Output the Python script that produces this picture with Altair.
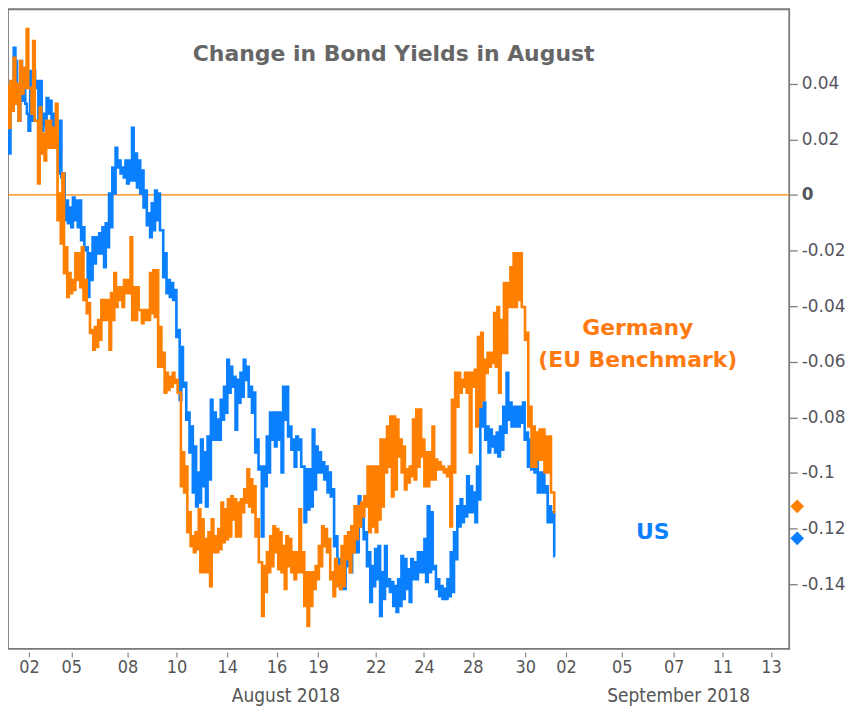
import altair as alt
import pandas as pd

# ---------------- data ----------------
# x axis: trading-time axis, tick positions (in session units) and their labels
tick_pos = [0.84, 2.54, 4.8, 6.76, 8.8, 10.78, 12.44, 14.76, 16.7, 18.66, 20.76,
            22.4, 24.64, 26.72, 28.68, 30.63]
tick_labels = ["02", "05", "08", "10", "14", "16", "19", "22", "24", "28", "30",
               "02", "05", "07", "11", "13"]
month_labels = ["August 2018", "September 2018"]
month_pos = [11.16, 26.92]
x_domain = [0, 31.36]
data_end = 21.96

y_ticks = [0.04, 0.02, 0.0, -0.02, -0.04, -0.06, -0.08, -0.1, -0.12, -0.14]
y_domain = [-0.1633, 0.0668]

# US 10y: per sample, high and low of the band
us_high = [0.0231, 0.0392, 0.0529, 0.0364, 0.0482, 0.0385, 0.0292, 0.0446, 0.0446, 0.0410,
           0.0410, 0.0292, 0.0349, 0.0339, 0.0292, 0.0195, 0.0267, 0.0077, -0.0020, -0.0045,
           -0.0009, -0.0020, -0.0020, -0.0116, -0.0188, -0.0210, -0.0152, -0.0152, -0.0138, -0.0116,
           -0.0102, 0.0005, 0.0099, 0.0170, 0.0124, 0.0099, 0.0124, 0.0124, 0.0242, 0.0149,
           0.0124, 0.0088, 0.0016, -0.0066, -0.0030, 0.0016, 0.0005, -0.0127, -0.0210, -0.0306,
           -0.0317, -0.0342, -0.0486, -0.0547, -0.0676, -0.0783, -0.0833, -0.0905, -0.0998, -0.0880,
           -0.0926, -0.0869, -0.0737, -0.0783, -0.0808, -0.0737, -0.0690, -0.0593, -0.0618, -0.0654,
           -0.0665, -0.0640, -0.0593, -0.0618, -0.0690, -0.0711, -0.0880, -0.0977, -0.0977, -0.0869,
           -0.0783, -0.0783, -0.0783, -0.0783, -0.0690, -0.0690, -0.0833, -0.0880, -0.0869, -0.0880,
           -0.0977, -0.0987, -0.0987, -0.0844, -0.0905, -0.0926, -0.0962, -0.0977, -0.0998, -0.1059,
           -0.1228, -0.1310, -0.1299, -0.1228, -0.1263, -0.1192, -0.1192, -0.1084, -0.1120, -0.1213,
           -0.1285, -0.1335, -0.1274, -0.1263, -0.1357, -0.1263, -0.1382, -0.1392, -0.1407, -0.1382,
           -0.1299, -0.1310, -0.1346, -0.1310, -0.1321, -0.1285, -0.1285, -0.1238, -0.1120, -0.1141,
           -0.1335, -0.1382, -0.1407, -0.1417, -0.1382, -0.1285, -0.1213, -0.1120, -0.1095, -0.1120,
           -0.1012, -0.1048, -0.1070, -0.0977, -0.0762, -0.0747, -0.0833, -0.0844, -0.0869, -0.0855,
           -0.0833, -0.0762, -0.0640, -0.0747, -0.0762, -0.0762, -0.0762, -0.0747, -0.0855, -0.0880,
           -0.0869, -0.0952, -0.0998, -0.0998, -0.1048, -0.1120, -0.1141]
us_low = [0.0149, 0.0303, 0.0482, 0.0267, 0.0339, 0.0328, 0.0231, 0.0267, 0.0385, 0.0267,
          0.0231, 0.0249, 0.0292, 0.0242, 0.0206, 0.0077, 0.0063, -0.0091, -0.0102, -0.0116,
          -0.0091, -0.0116, -0.0163, -0.0199, -0.0367, -0.0306, -0.0246, -0.0210, -0.0210, -0.0260,
          -0.0188, -0.0116, 0.0005, 0.0099, 0.0077, 0.0063, 0.0041, 0.0052, 0.0052, 0.0027,
          0.0005, -0.0045, -0.0109, -0.0152, -0.0127, -0.0091, -0.0127, -0.0296, -0.0353, -0.0367,
          -0.0378, -0.0511, -0.0737, -0.0690, -0.0808, -0.0926, -0.1070, -0.1120, -0.1106, -0.1048,
          -0.1120, -0.1023, -0.0880, -0.0880, -0.0880, -0.0808, -0.0783, -0.0711, -0.0690, -0.0844,
          -0.0747, -0.0726, -0.0665, -0.0726, -0.0783, -0.0926, -0.0987, -0.1228, -0.1048, -0.0998,
          -0.0880, -0.0905, -0.0880, -0.0998, -0.0808, -0.0869, -0.0916, -0.0977, -0.0916, -0.0977,
          -0.1177, -0.1131, -0.1120, -0.1059, -0.0998, -0.0998, -0.1023, -0.1070, -0.1084, -0.1263,
          -0.1346, -0.1417, -0.1417, -0.1335, -0.1357, -0.1285, -0.1285, -0.1192, -0.1238, -0.1335,
          -0.1464, -0.1407, -0.1382, -0.1514, -0.1453, -0.1407, -0.1428, -0.1478, -0.1500, -0.1478,
          -0.1453, -0.1417, -0.1464, -0.1382, -0.1382, -0.1357, -0.1357, -0.1392, -0.1357, -0.1346,
          -0.1417, -0.1443, -0.1453, -0.1453, -0.1443, -0.1428, -0.1310, -0.1192, -0.1177, -0.1156,
          -0.1141, -0.1141, -0.1177, -0.1095, -0.0833, -0.0880, -0.0926, -0.0905, -0.0926, -0.0941,
          -0.0916, -0.0855, -0.0808, -0.0833, -0.0833, -0.0833, -0.0819, -0.0880, -0.0977, -0.0987,
          -0.0998, -0.1070, -0.1070, -0.1070, -0.1177, -0.1177, -0.1299]

# Germany (EU benchmark): per sample, high and low of the band
de_high = [0.0392, 0.0410, 0.0493, 0.0400, 0.0482, 0.0457, 0.0597, 0.0385, 0.0554, 0.0267,
           0.0314, 0.0220, 0.0267, 0.0267, 0.0242, 0.0328, 0.0005, 0.0077, -0.0188, -0.0281,
           -0.0306, -0.0210, -0.0210, -0.0188, -0.0306, -0.0389, -0.0486, -0.0475, -0.0450, -0.0378,
           -0.0378, -0.0378, -0.0353, -0.0281, -0.0332, -0.0332, -0.0306, -0.0306, -0.0152, -0.0332,
           -0.0332, -0.0414, -0.0414, -0.0414, -0.0281, -0.0271, -0.0271, -0.0475, -0.0568, -0.0640,
           -0.0654, -0.0640, -0.0665, -0.0711, -0.0926, -0.0977, -0.1141, -0.1228, -0.1213, -0.1131,
           -0.1167, -0.1238, -0.1213, -0.1167, -0.1228, -0.1202, -0.1106, -0.1131, -0.1095, -0.1084,
           -0.1095, -0.1106, -0.1095, -0.1059, -0.0987, -0.1023, -0.1048, -0.1167, -0.1321, -0.1335,
           -0.1285, -0.1228, -0.1192, -0.1202, -0.1213, -0.1263, -0.1228, -0.1238, -0.1285, -0.1285,
           -0.1131, -0.1285, -0.1357, -0.1357, -0.1357, -0.1335, -0.1263, -0.1192, -0.1202, -0.1238,
           -0.1357, -0.1310, -0.1335, -0.1263, -0.1228, -0.1213, -0.1192, -0.1120, -0.1120, -0.1106,
           -0.1084, -0.0977, -0.0977, -0.0977, -0.0977, -0.0880, -0.0880, -0.0833, -0.0797, -0.0797,
           -0.0808, -0.0880, -0.0905, -0.0987, -0.0977, -0.0808, -0.0772, -0.0772, -0.0880, -0.0926,
           -0.0926, -0.0833, -0.0952, -0.0962, -0.0977, -0.0987, -0.0977, -0.0737, -0.0640, -0.0640,
           -0.0665, -0.0640, -0.0640, -0.0640, -0.0629, -0.0511, -0.0496, -0.0593, -0.0568, -0.0568,
           -0.0425, -0.0403, -0.0450, -0.0317, -0.0317, -0.0260, -0.0210, -0.0210, -0.0210, -0.0403,
           -0.0496, -0.0762, -0.0833, -0.0855, -0.0844, -0.0844, -0.0869, -0.0869, -0.1070]
de_low = [0.0242, 0.0303, 0.0328, 0.0267, 0.0364, 0.0385, 0.0385, 0.0292, 0.0267, 0.0041,
          0.0149, 0.0124, 0.0170, 0.0170, 0.0170, -0.0091, -0.0174, -0.0281, -0.0367, -0.0353,
          -0.0342, -0.0306, -0.0332, -0.0378, -0.0425, -0.0496, -0.0557, -0.0547, -0.0521, -0.0450,
          -0.0450, -0.0557, -0.0450, -0.0403, -0.0378, -0.0403, -0.0353, -0.0353, -0.0450, -0.0450,
          -0.0414, -0.0461, -0.0450, -0.0450, -0.0425, -0.0439, -0.0618, -0.0618, -0.0711, -0.0701,
          -0.0690, -0.0676, -0.0711, -0.1048, -0.1070, -0.1213, -0.1263, -0.1285, -0.1274, -0.1357,
          -0.1357, -0.1357, -0.1407, -0.1285, -0.1285, -0.1274, -0.1249, -0.1238, -0.1228, -0.1167,
          -0.1228, -0.1228, -0.1141, -0.1106, -0.1120, -0.1141, -0.1228, -0.1321, -0.1514, -0.1428,
          -0.1357, -0.1335, -0.1285, -0.1346, -0.1357, -0.1417, -0.1335, -0.1357, -0.1382, -0.1357,
          -0.1357, -0.1478, -0.1550, -0.1478, -0.1417, -0.1382, -0.1335, -0.1263, -0.1285, -0.1382,
          -0.1443, -0.1407, -0.1417, -0.1407, -0.1310, -0.1357, -0.1285, -0.1238, -0.1192, -0.1156,
          -0.1120, -0.1213, -0.1192, -0.1213, -0.1167, -0.1120, -0.0998, -0.0977, -0.1084, -0.1059,
          -0.0941, -0.0998, -0.1059, -0.1034, -0.1012, -0.1023, -0.0977, -0.0941, -0.1048, -0.1048,
          -0.1023, -0.1023, -0.0987, -0.0987, -0.0998, -0.1012, -0.1192, -0.0998, -0.0762, -0.0711,
          -0.0690, -0.0711, -0.0926, -0.0690, -0.0833, -0.0762, -0.0737, -0.0640, -0.0618, -0.0604,
          -0.0618, -0.0711, -0.0568, -0.0568, -0.0403, -0.0403, -0.0403, -0.0378, -0.0403, -0.0521,
          -0.0833, -0.0977, -0.0977, -0.0952, -0.0952, -0.0998, -0.0998, -0.1070, -0.1141]

last_values = [-0.112, -0.1235]          # markers on the price axis (Germany, US)
series_names = ["Germany", "US"]
colors = ["#ff8000", "#0a80ff"]

title_text = "Change in Bond Yields in August"
label_de = ["Germany", "(EU Benchmark)"]
label_de_pos = [25.28, -0.0478, -0.0593]
label_us = "US"
label_us_pos = [25.88, -0.1213]


def band_to_path(high, low, end):
    vals = []
    for h, l in zip(high, low):
        vals.extend([h, l])
    n = len(vals)
    return pd.DataFrame({"t": [end * k / (n - 1) for k in range(n)], "v": vals})


us_df = band_to_path(us_high, us_low, data_end)
de_df = band_to_path(de_high, de_low, data_end)

# ---------------- chart ----------------
x_expr = " : ".join(f"datum.value == {p} ? '{l}'" for p, l in zip(tick_pos, tick_labels)) + " : ''"

x_scale = alt.Scale(domain=x_domain, nice=False, zero=False)
y_scale = alt.Scale(domain=y_domain, nice=False, zero=False)

cond_font = "DejaVu Sans Condensed, Liberation Sans Narrow, DejaVu Sans"

x_axis = alt.Axis(values=tick_pos, labelExpr=x_expr, title=None, grid=False, domain=False,
                  offset=3, tickSize=5, tickColor="#888888", tickWidth=1.2,
                  labelFont=cond_font, labelFontSize=18, labelColor="#555555",
                  labelPadding=2, labelFlush=False, labelOverlap=False)
y_axis = alt.Axis(orient="right", values=y_ticks, title=None, grid=False, domain=False,
                  tickSize=8, tickColor="#777777", tickWidth=1.2,
                  labelExpr="replace(format(datum.value, '.2~f'), '\u2212', '-')",
                  labelFont="DejaVu Sans", labelFontSize=17, labelColor="#555560",
                  labelPadding=4, labelFlush=False, labelOverlap=False,
                  labelFontWeight={"condition": {"test": "datum.value == 0", "value": "bold"},
                                   "value": "normal"})

us_line = alt.Chart(us_df).mark_line(color=colors[1], strokeWidth=2.6, interpolate="step",
                                     clip=True).encode(
    x=alt.X("t:Q", scale=x_scale, axis=x_axis),
    y=alt.Y("v:Q", scale=y_scale, axis=y_axis),
)
de_line = alt.Chart(de_df).mark_line(color=colors[0], strokeWidth=2.6, interpolate="step",
                                     clip=True).encode(
    x=alt.X("t:Q", scale=x_scale),
    y=alt.Y("v:Q", scale=y_scale),
)

zero_rule = alt.Chart(pd.DataFrame({"v": [0.0]})).mark_rule(color="#ff8000", strokeWidth=1.3).encode(
    y=alt.Y("v:Q", scale=y_scale)
)

markers = alt.Chart(pd.DataFrame({"v": last_values, "s": series_names})).mark_point(
    shape="diamond", filled=True, size=190, opacity=1, clip=False
).encode(
    x=alt.value(792),
    y=alt.Y("v:Q", scale=y_scale),
    color=alt.Color("s:N", scale=alt.Scale(domain=series_names, range=colors), legend=None),
)

title = alt.Chart(pd.DataFrame({"t": [title_text]})).mark_text(
    font="DejaVu Sans", fontSize=22, fontWeight="bold", color="#666666", baseline="middle"
).encode(x=alt.value(387), y=alt.value(45), text="t:N")

de_text = alt.Chart(pd.DataFrame({
    "t": label_de, "x": [label_de_pos[0]] * 2, "y": label_de_pos[1:]
})).mark_text(font="DejaVu Sans", fontSize=22, fontWeight="bold", color="#ff7a10",
              baseline="middle").encode(
    x=alt.X("x:Q", scale=x_scale), y=alt.Y("y:Q", scale=y_scale), text="t:N")

us_text = alt.Chart(pd.DataFrame({
    "t": [label_us], "x": [label_us_pos[0]], "y": [label_us_pos[1]]
})).mark_text(font="DejaVu Sans", fontSize=22, fontWeight="bold", color="#0a80ff",
              baseline="middle").encode(
    x=alt.X("x:Q", scale=x_scale), y=alt.Y("y:Q", scale=y_scale), text="t:N")

month_text = alt.Chart(pd.DataFrame({"t": month_labels, "x": month_pos})).mark_text(
    font=cond_font, fontSize=19, color="#555555", baseline="middle", clip=False
).encode(x=alt.X("x:Q", scale=x_scale), y=alt.value(689), text="t:N")

chart = alt.layer(
    zero_rule, us_line, de_line, markers, title, de_text, us_text, month_text
).properties(
    width=784, height=642, autosize="none",
    padding={"left": 0, "top": 0, "right": 62, "bottom": 60},
).configure(background="white").configure_view(stroke="#7a7a7a", strokeWidth=1.8)

chart.save("out.html", embed_options={"renderer": "svg", "actions": False})
